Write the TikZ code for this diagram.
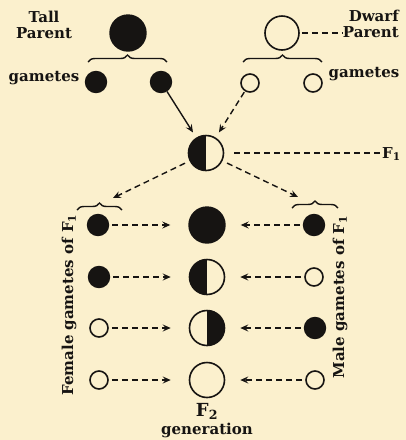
\documentclass[tikz,border=0pt]{standalone}
\usepackage{fontspec}
\setmainfont{DejaVu Serif}
\usepackage{tikz}
\usetikzlibrary{arrows.meta,decorations.pathreplacing}
\definecolor{paper}{RGB}{251,240,205}
\definecolor{ink}{RGB}{22,20,18}
\tikzset{
  dom/.style={circle,fill=ink,draw=ink,line width=1.4pt,inner sep=0pt,minimum size=#1},
  rec/.style={circle,draw=ink,line width=1.6pt,inner sep=0pt,minimum size=#1},
  hyL/.style={rec=#1,path picture={\fill[ink] (path picture bounding box.south west) rectangle (path picture bounding box.north);}},
  hyR/.style={rec=#1,path picture={\fill[ink] (path picture bounding box.south east) rectangle (path picture bounding box.north);}},
  arr/.style={ink,line width=1.4pt,-{Stealth[length=8pt,width=7pt,inset=3pt]}},
  cross/.style={arr,dash pattern=on 6pt off 4pt},
  dashline/.style={ink,line width=1.3pt,dash pattern=on 6pt off 4pt},
  lbl/.style={text=ink,font=\fontsize{15}{15.5}\selectfont\bfseries,inner sep=0pt},
  bracel/.style={decorate,decoration={brace,amplitude=7pt},ink,line width=1.4pt}
}
\begin{document}
\begin{tikzpicture}[x=1pt,y=-1pt]
      \fill[paper] (0,0) rectangle (406,440);
      \useasboundingbox (0,0) rectangle (406,440);
      % parents
      \node[dom=36pt] (tall) at (128,33) {};
      \node[rec=34pt] (dwarf) at (282,33) {};
      \node[lbl,align=center] (tallT) at (44,25) {Tall\\Parent};
      \node[lbl,align=right,anchor=east] (dwarfT) at (399,24) {Dwarf\\Parent};
      \draw[dashline] ([xshift=2pt]dwarf.east) -- (dwarfT.west |- dwarf.east);
      % gametes of the parents
      \draw[bracel] (88,62) -- (167,62);
      \draw[bracel] (243,62) -- (322,62);
      \node[dom=21pt] (tg1) at (96,82) {};
      \node[dom=21pt] (tg2) at (161,82) {};
      \node[rec=18pt] (dg1) at (250,83) {};
      \node[rec=18pt] (dg2) at (313,83) {};
      \node[lbl,anchor=base] (gamL) at (44,81) {gametes};
      \node[lbl,anchor=base] (gamR) at (364,77) {gametes};
      % F1
      \node[hyL=35pt] (f1) at (206,153) {};
      \node[lbl,anchor=base west] (f1T) at (382,158) {F\textsubscript{1}};
      \draw[dashline] ([xshift=10pt]f1.east) -- (f1T.west |- f1.east);
      \draw[arr,shorten >=6pt] (tg2) -- (f1);
      \draw[cross,shorten >=6pt,shorten <=1pt] (dg1) -- (f1);
      % gametes of F1
      \draw[bracel] (77,210) -- (122,210);
      \draw[bracel] (292,208) -- (338,208);
      \coordinate (fL) at (113,198);
      \coordinate (fR) at (298,197);
      \draw[cross,shorten <=5pt] (f1) -- (fL);
      \draw[cross,shorten <=5pt] (f1) -- (fR);
      \node[lbl,rotate=90] (femT) at (69,305) {Female gametes of F\textsubscript{1}};
      \node[lbl,rotate=90] (malT) at (340,297) {Male gametes of F\textsubscript{1}};
      % F2
      \node[dom=21pt] (fa) at (98,225) {};
      \node[dom=21pt] (fb) at (99,277) {};
      \node[rec=18pt] (fc) at (99,328) {};
      \node[rec=18pt] (fd) at (99,380) {};
      \node[dom=36pt] (ca) at (207,225) {};
      \node[hyL=35pt] (cb) at (207,277) {};
      \node[hyR=35pt] (cc) at (207,328) {};
      \node[rec=35pt] (cd) at (207,380) {};
      \node[dom=21pt] (ma) at (314,225) {};
      \node[rec=18pt] (mb) at (314,277) {};
      \node[dom=21pt] (mc) at (315,328) {};
      \node[rec=18pt] (md) at (315,380) {};
      \draw[cross,shorten <=3pt,shorten >=18pt] (fa) -- (ca);
      \draw[cross,shorten <=3pt,shorten >=18pt] (fb) -- (cb);
      \draw[cross,shorten <=3pt,shorten >=18pt] (fc) -- (cc);
      \draw[cross,shorten <=3pt,shorten >=18pt] (fd) -- (cd);
      \draw[cross,shorten <=3pt,shorten >=15pt] (ma) -- (ca);
      \draw[cross,shorten <=3pt,shorten >=15pt] (mb) -- (cb);
      \draw[cross,shorten <=3pt,shorten >=15pt] (mc) -- (cc);
      \draw[cross,shorten <=3pt,shorten >=15pt] (md) -- (cd);
      \node[lbl,anchor=base] (f2T) at (207,416) {\fontsize{18}{18}\selectfont F\textsubscript{2}};
      \node[lbl,anchor=base] (genT) at (207,434) {generation};
    \end{tikzpicture}
\end{document}
